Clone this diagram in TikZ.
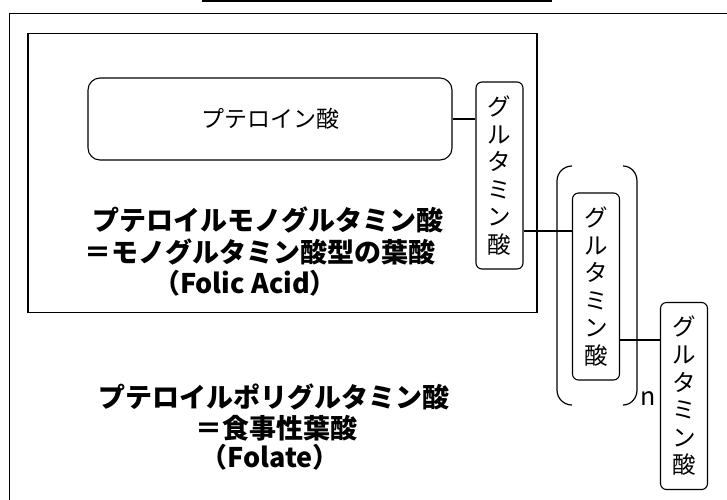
\documentclass[tikz,border=0pt]{standalone}
\usepackage{fontspec}
\newfontfamily\jp{Noto Sans CJK JP}
\begin{document}
\begin{tikzpicture}[x=1pt,y=-1pt,
  frame/.style={draw=black,line width=1.6pt},
  inbox/.style={draw=black,line width=1.3pt},
  pbox/.style={draw=black,line width=1.1pt,rounded corners=12pt,minimum width=364pt,minimum height=82pt,inner sep=0pt,font=\jp\fontsize{23}{26}\selectfont},
  glubox/.style={draw=black,line width=1.1pt,rounded corners=6pt,minimum width=47pt,minimum height=187pt,inner sep=0pt,align=center,font=\jp\fontsize{23.5}{27.6}\selectfont},
  bigtxt/.style={font=\jp\bfseries\fontsize{27}{31}\selectfont,inner sep=0pt},
  link/.style={line width=2pt},
  brk/.style={line width=1.2pt}]
\useasboundingbox (0,0) rectangle (727,499);
% top cut-off line and outer frame
\coordinate (tl) at (202,0.8);
\coordinate (tr) at (552,0.8);
\draw[line width=1.8pt] (tl) -- (tr);
\coordinate (fb) at (9.5,500);
\coordinate (fc) at (9.5,13.5);
\coordinate (fr) at (728,13.5);
\draw[frame] (fb) -- (fc) -- (fr);
% inner box
\node[inbox,minimum width=509pt,minimum height=279pt,inner sep=0pt] (inner) at (282.5,173) {};
% pteroic acid
\node[pbox] (pt) at (270,119) {プテロイン酸};
% glutamic acid boxes
\node[glubox] (g1) at (499.5,175.5) {グ\\ル\\タ\\ミ\\ン\\酸};
\node[glubox] (g2) at (596,286.5) {グ\\ル\\タ\\ミ\\ン\\酸};
\node[glubox] (g3) at (684,396) {グ\\ル\\タ\\ミ\\ン\\酸};
% connectors
\draw[link] (pt.east) -- (pt.east -| g1.west);
\draw[link] ([yshift=-55.5pt]g1.east) -- ([yshift=-55.5pt]g1.east -| g2.west);
\draw[link] ([yshift=-53.5pt]g2.east) -- ([yshift=-53.5pt]g2.east -| g3.west);
% brackets
\coordinate (lb1) at (572,166);
\coordinate (lb2) at (572,405);
\coordinate (rb1) at (623,166);
\coordinate (rb2) at (623,405);
\draw[brk] (lb1) to[out=180,in=90] (557,181) -- (557,390) to[out=-90,in=180] (lb2);
\draw[brk] (rb1) to[out=0,in=90] (637,181) -- (637,390) to[out=-90,in=0] (rb2);
\node[font=\jp\fontsize{25}{28}\selectfont,inner sep=0pt] (n) at (648,399) {n};
% labels
\node[bigtxt] (a1) at (268,220) {プテロイルモノグルタミン酸};
\node[bigtxt] (a2) at (260,252) {＝モノグルタミン酸型の葉酸};
\node[bigtxt] (a3) at (245,283) {（Folic Acid）};
\node[bigtxt] (b1) at (274,397) {プテロイルポリグルタミン酸};
\node[bigtxt] (b2) at (276,428) {＝食事性葉酸};
\node[bigtxt] (b3) at (270,457) {（Folate）};
\end{tikzpicture}
\end{document}
